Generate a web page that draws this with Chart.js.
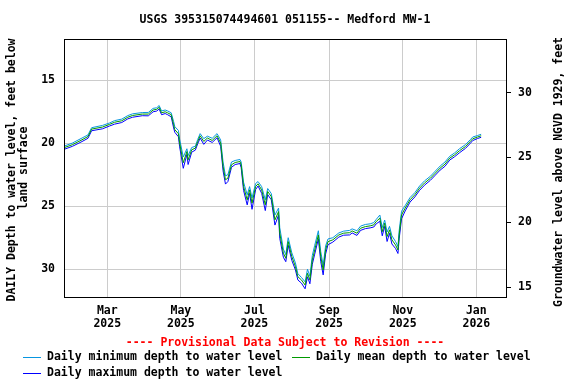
<!DOCTYPE html>
<html>
<head>
<meta charset="utf-8">
<script src="https://cdn.jsdelivr.net/npm/chart.js@4.4.1/dist/chart.umd.min.js"></script>
<style>
  html, body { margin: 0; padding: 0; background: #fff; }
  canvas { display: block; }
</style>
</head>
<body>
<canvas id="chart" width="576" height="384"></canvas>
<script>
const chartTitle = 'USGS 395315074494601 051155-- Medford MW-1';
const leftTitle = ['DAILY Depth to water level, feet below', 'land surface'];
const rightTitle = 'Groundwater level above NGVD 1929, feet';
const provisionalNote = '---- Provisional Data Subject to Revision ----';

const dates = [
    '2025-01-24', '2025-01-31', '2025-02-08', '2025-02-13', '2025-02-16', '2025-02-25', '2025-03-03', '2025-03-07',
    '2025-03-13', '2025-03-18', '2025-03-22', '2025-03-30', '2025-04-04', '2025-04-08', '2025-04-11', '2025-04-13',
    '2025-04-15', '2025-04-18', '2025-04-20', '2025-04-23', '2025-04-25', '2025-04-26', '2025-04-29', '2025-04-30',
    '2025-05-03', '2025-05-06', '2025-05-07', '2025-05-10', '2025-05-13', '2025-05-15', '2025-05-17', '2025-05-20',
    '2025-05-23', '2025-05-27', '2025-05-31', '2025-06-03', '2025-06-05', '2025-06-07', '2025-06-09', '2025-06-12',
    '2025-06-15', '2025-06-19', '2025-06-20', '2025-06-22', '2025-06-25', '2025-06-27', '2025-06-29', '2025-07-02',
    '2025-07-04', '2025-07-07', '2025-07-10', '2025-07-12', '2025-07-15', '2025-07-18', '2025-07-21', '2025-07-22',
    '2025-07-25', '2025-07-27', '2025-07-29', '2025-08-01', '2025-08-04', '2025-08-06', '2025-08-09', '2025-08-12',
    '2025-08-14', '2025-08-16', '2025-08-18', '2025-08-20', '2025-08-23', '2025-08-25', '2025-08-27', '2025-08-29',
    '2025-08-31', '2025-09-04', '2025-09-09', '2025-09-13', '2025-09-18', '2025-09-20', '2025-09-24', '2025-09-27',
    '2025-10-01', '2025-10-05', '2025-10-08', '2025-10-10', '2025-10-13', '2025-10-15', '2025-10-17', '2025-10-19',
    '2025-10-21', '2025-10-23', '2025-10-26', '2025-10-28', '2025-10-29', '2025-10-31', '2025-11-03', '2025-11-07',
    '2025-11-11', '2025-11-15', '2025-11-19', '2025-11-24', '2025-11-28', '2025-12-02', '2025-12-06', '2025-12-10',
    '2025-12-14', '2025-12-18', '2025-12-23', '2025-12-27', '2025-12-29', '2026-01-02', '2026-01-05'
];

// depth to water, feet below land surface
const meanDepth = [
    20.37, 20.13, 19.74, 19.48, 18.89, 18.73, 18.51, 18.35, 18.23, 17.95, 17.81, 17.70, 17.70, 17.38, 17.32, 17.16,
    17.60, 17.52, 17.60, 17.75, 18.55, 18.94, 19.26, 20.00, 21.56, 20.67, 21.33, 20.53, 20.40, 19.87, 19.42, 19.87,
    19.60, 19.79, 19.42, 20.00, 21.86, 22.91, 22.78, 21.72, 21.54, 21.46, 21.72, 23.44, 24.50, 23.71, 24.76, 23.44,
    23.23, 23.71, 24.90, 23.84, 24.24, 26.09, 25.43, 27.14, 28.73, 29.13, 27.81, 29.00, 29.79, 30.59, 30.85, 31.25,
    30.32, 30.85, 29.26, 28.47, 27.28, 29.00, 30.06, 28.47, 27.81, 27.67, 27.28, 27.14, 27.10, 26.96, 27.14, 26.75,
    26.62, 26.56, 26.48, 26.22, 25.95, 27.02, 26.35, 27.41, 26.88, 27.67, 28.07, 28.47, 27.28, 25.69, 25.16, 24.50,
    24.10, 23.57, 23.17, 22.78, 22.38, 21.98, 21.67, 21.19, 20.93, 20.61, 20.27, 19.87, 19.66, 19.52, 19.42
];
const minDepth = [
    20.25, 20.00, 19.60, 19.35, 18.78, 18.60, 18.40, 18.22, 18.10, 17.82, 17.68, 17.58, 17.57, 17.25, 17.20, 17.02,
    17.45, 17.38, 17.45, 17.60, 18.30, 18.70, 19.00, 19.70, 21.10, 20.45, 21.00, 20.35, 20.25, 19.70, 19.25, 19.65,
    19.45, 19.62, 19.25, 19.75, 21.50, 22.60, 22.50, 21.50, 21.38, 21.30, 21.50, 23.10, 24.10, 23.45, 24.35, 23.20,
    23.05, 23.45, 24.50, 23.60, 24.00, 25.70, 25.15, 26.70, 28.40, 28.85, 27.50, 28.70, 29.50, 30.35, 30.65, 31.00,
    30.00, 30.55, 28.90, 28.10, 26.95, 28.60, 29.70, 28.15, 27.60, 27.50, 27.12, 26.98, 26.92, 26.80, 26.95, 26.58,
    26.45, 26.40, 26.30, 26.05, 25.70, 26.70, 26.10, 27.05, 26.60, 27.35, 27.80, 28.20, 26.95, 25.40, 24.95, 24.32,
    23.93, 23.40, 23.00, 22.62, 22.22, 21.82, 21.50, 21.04, 20.78, 20.45, 20.12, 19.73, 19.52, 19.40, 19.30
];
const maxDepth = [
    20.50, 20.26, 19.88, 19.62, 19.02, 18.87, 18.64, 18.50, 18.37, 18.08, 17.95, 17.83, 17.84, 17.52, 17.46, 17.30,
    17.75, 17.66, 17.75, 17.92, 18.80, 19.15, 19.50, 20.30, 22.00, 20.90, 21.70, 20.72, 20.56, 20.05, 19.60, 20.10,
    19.76, 19.95, 19.58, 20.25, 22.20, 23.25, 23.05, 21.92, 21.70, 21.62, 21.95, 23.75, 24.90, 23.98, 25.25, 23.68,
    23.40, 23.98, 25.35, 24.08, 24.50, 26.50, 25.70, 27.55, 29.05, 29.40, 28.10, 29.30, 30.05, 30.85, 31.10, 31.55,
    30.60, 31.15, 29.60, 28.80, 27.60, 29.40, 30.45, 28.80, 28.05, 27.85, 27.45, 27.30, 27.28, 27.12, 27.32, 26.92,
    26.78, 26.72, 26.65, 26.40, 26.20, 27.35, 26.60, 27.80, 27.15, 28.00, 28.35, 28.75, 27.60, 26.00, 25.38, 24.68,
    24.27, 23.74, 23.34, 22.94, 22.54, 22.14, 21.84, 21.34, 21.08, 20.77, 20.42, 20.02, 19.80, 19.64, 19.54
];

const monthTicks = ['2025-03-01', '2025-05-01', '2025-07-01', '2025-09-01', '2025-11-01', '2026-01-01'];
const monthLabels = [['Mar', '2025'], ['May', '2025'], ['Jul', '2025'], ['Sep', '2025'], ['Nov', '2025'], ['Jan', '2026']];
const depthTicks = [15, 20, 25, 30];
const elevationTicks = [15, 20, 25, 30];

const seriesNames = [
    'Daily minimum depth to water level',
    'Daily mean depth to water level',
    'Daily maximum depth to water level'
];
const seriesColors = ['#0896e0', '#009a00', '#0000ff'];

const FONT = '"DejaVu Sans Mono", "Liberation Mono", monospace';

function dayNumber(iso) {
    const p = iso.split('-').map(Number);
    return (Date.UTC(p[0], p[1] - 1, p[2]) - Date.UTC(2025, 0, 1)) / 86400000;
}

function toPoints(values) {
    return values.map((v, i) => ({x: dayNumber(dates[i]), y: v}));
}

const tickDays = monthTicks.map(dayNumber);

const overlay = {
    id: 'overlay',
    afterDraw(chart) {
        const ctx = chart.ctx;
        const a = chart.chartArea;
        ctx.save();
        ctx.strokeStyle = '#000';
        ctx.lineWidth = 1;
        ctx.strokeRect(a.left + 0.5, a.top + 0.5, a.right - a.left, a.bottom - a.top);

        ctx.font = 'bold 11.5px ' + FONT;
        ctx.fillStyle = '#000';
        ctx.textBaseline = 'middle';
        ctx.textAlign = 'center';
        ctx.fillText(chartTitle, 285, 20);

        const midY = (a.top + a.bottom) / 2;
        ctx.save();
        ctx.translate(12, midY + 2);
        ctx.rotate(-Math.PI / 2);
        ctx.fillText(leftTitle[0], 0, 0);
        ctx.restore();
        ctx.save();
        ctx.translate(24.5, midY);
        ctx.rotate(-Math.PI / 2);
        ctx.fillText(leftTitle[1], 0, 0);
        ctx.restore();
        ctx.save();
        ctx.translate(559, midY + 4);
        ctx.rotate(-Math.PI / 2);
        ctx.fillText(rightTitle, 0, 0);
        ctx.restore();

        ctx.fillStyle = '#ff0000';
        ctx.fillText(provisionalNote, 285, 343);

        // legend, two rows
        const slots = [[23, 357], [292, 357], [23, 373]];
        ctx.textAlign = 'left';
        ctx.fillStyle = '#000';
        slots.forEach((s, i) => {
            ctx.strokeStyle = seriesColors[i];
            ctx.lineWidth = 1;
            ctx.beginPath();
            ctx.moveTo(s[0], s[1] + 0.5);
            ctx.lineTo(s[0] + 18, s[1] + 0.5);
            ctx.stroke();
            ctx.fillText(seriesNames[i], s[0] + 24, s[1]);
        });
        ctx.restore();
    }
};

function lineSet(label, values, color, order) {
    return {
        label: label,
        data: toPoints(values),
        borderColor: color,
        borderWidth: 1,
        pointRadius: 0,
        tension: 0,
        fill: false,
        order: order,
        yAxisID: 'y'
    };
}

new Chart(document.getElementById('chart'), {
    type: 'line',
    data: {
        datasets: [
            lineSet(seriesNames[0], minDepth, seriesColors[0], 1),
            lineSet(seriesNames[1], meanDepth, seriesColors[1], 0),
            lineSet(seriesNames[2], maxDepth, seriesColors[2], 2)
        ]
    },
    options: {
        responsive: false,
        animation: false,
        events: [],
        layout: {padding: {top: 39, left: 0, right: 0, bottom: 0}},
        plugins: {legend: {display: false}, tooltip: {enabled: false}, title: {display: false}},
        scales: {
            x: {
                type: 'linear',
                min: 23.1,
                max: 389.6,
                afterFit(scale) { scale.height = 87; },
                afterBuildTicks(scale) { scale.ticks = tickDays.map(v => ({value: v})); },
                grid: {color: '#cccccc', drawTicks: false},
                border: {display: false},
                ticks: {
                    autoSkip: false,
                    maxRotation: 0,
                    padding: 8,
                    color: '#000',
                    font: {family: FONT, size: 11.5, weight: 'bold', lineHeight: 1.1},
                    callback(value) {
                        const i = tickDays.indexOf(value);
                        return i >= 0 ? monthLabels[i] : '';
                    }
                }
            },
            y: {
                position: 'left',
                reverse: true,
                min: 11.75,
                max: 32.2,
                afterFit(scale) { scale.width = 64; },
                afterBuildTicks(scale) { scale.ticks = depthTicks.map(v => ({value: v})); },
                grid: {color: '#cccccc', drawTicks: false},
                border: {display: false},
                ticks: {padding: 9, color: '#000', font: {family: FONT, size: 11.5, weight: 'bold'}}
            },
            y2: {
                position: 'right',
                min: 14.23,
                max: 34.15,
                afterFit(scale) { scale.width = 70; },
                afterBuildTicks(scale) { scale.ticks = elevationTicks.map(v => ({value: v})); },
                grid: {drawOnChartArea: false, color: '#000', tickLength: 5},
                border: {display: false},
                ticks: {padding: 7, color: '#000', font: {family: FONT, size: 11.5, weight: 'bold'}}
            }
        }
    },
    plugins: [overlay]
});
</script>
</body>
</html>
